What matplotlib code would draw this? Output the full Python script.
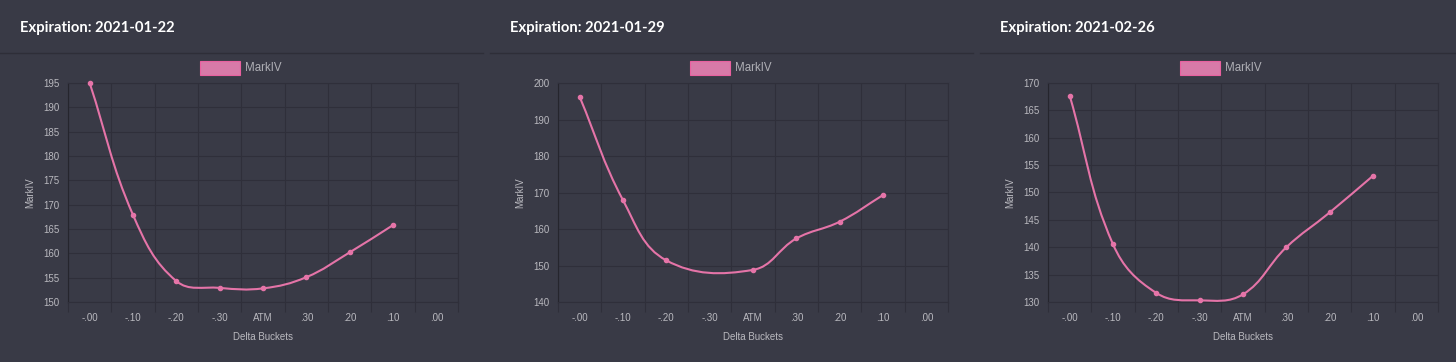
import numpy as np
import matplotlib
matplotlib.use("Agg")
import matplotlib.pyplot as plt
from matplotlib.path import Path
from matplotlib.patches import PathPatch, Rectangle
from matplotlib.lines import Line2D

nan = np.nan
categories = ['-.00', '-.10', '-.20', '-.30', 'ATM', '.30', '.20', '.10', '.00']
titles = ['Expiration: 2021-01-22', 'Expiration: 2021-01-29', 'Expiration: 2021-02-26']
iv_0122 = [195.0, 167.9, 154.3, 152.9, 152.8, 155.1, 160.2, 165.8, nan]
iv_0129 = [196.2, 167.9, 151.4, nan, 148.8, 157.4, 162.0, 169.3, nan]
iv_0226 = [167.7, 140.55, 131.65, 130.3, 131.4, 140.0, 146.35, 153.05, nan]
series = [iv_0122, iv_0129, iv_0226]
yranges = [(150, 195, 5), (140, 200, 10), (130, 170, 5)]

BG = '#393a46'
GRID = '#2f2f3a'
AXIS = '#25252d'
TXT = '#b9b9bf'
PINK = '#e574a8'

W, H = 1456, 362
fig = plt.figure(figsize=(W / 100, H / 100), dpi=100, facecolor=BG)


def spline_path(xs, ys, sx, sy, t=0.4):
    # Chart.js style bezier, computed in pixel space
    px = np.array(xs) * sx
    py = np.array(ys) * sy
    n = len(px)
    verts = [(px[0], py[0])]
    codes = [Path.MOVETO]
    cps = []
    for i in range(n):
        p0 = (px[max(i - 1, 0)], py[max(i - 1, 0)])
        p1 = (px[i], py[i])
        p2 = (px[min(i + 1, n - 1)], py[min(i + 1, n - 1)])
        d01 = np.hypot(p1[0] - p0[0], p1[1] - p0[1])
        d12 = np.hypot(p2[0] - p1[0], p2[1] - p1[1])
        tot = d01 + d12
        s01 = d01 / tot if tot else 0
        s12 = d12 / tot if tot else 0
        fa, fb = t * s01, t * s12
        prev = (p1[0] - fa * (p2[0] - p0[0]), p1[1] - fa * (p2[1] - p0[1]))
        nxt = (p1[0] + fb * (p2[0] - p0[0]), p1[1] + fb * (p2[1] - p0[1]))
        cps.append((prev, nxt))
    for i in range(1, n):
        verts += [cps[i - 1][1], cps[i][0], (px[i], py[i])]
        codes += [Path.CURVE4] * 3
    verts = [(vx / sx, vy / sy) for vx, vy in verts]
    return Path(verts, codes)


for k in range(3):
    off = 490 * k
    left = (68 + off) / W
    width = 390 / W
    bottom = 1 - 302 / H
    height = 219 / H
    ax = fig.add_axes([left, bottom, width, height])
    ax.set_facecolor(BG)
    ymin, ymax, step = yranges[k]
    ax.set_xlim(-0.5, len(categories) - 0.5)
    ax.set_ylim(ymin, ymax)
    ax.set_xticks(range(len(categories)))
    ax.set_xticklabels(categories)
    ax.set_xticks(np.arange(-0.5, len(categories), 1), minor=True)
    ax.set_yticks(np.arange(ymin, ymax + 0.1, step))
    ax.tick_params(axis='x', which='major', length=0, pad=8, labelsize=7, labelcolor=TXT)
    ax.tick_params(axis='x', which='minor', length=7.2, width=0.8, color=GRID)
    ax.tick_params(axis='y', which='major', length=0, pad=6, labelsize=7, labelcolor=TXT)
    for lab in ax.get_xticklabels() + ax.get_yticklabels():
        lab.set_fontfamily('Liberation Sans')
    ax.grid(True, axis='x', which='minor', color=GRID, linewidth=0.8)
    ax.grid(True, axis='y', which='major', color=GRID, linewidth=0.8)
    ax.set_axisbelow(True)
    for s in ['top', 'right', 'bottom']:
        ax.spines[s].set_color(GRID)
        ax.spines[s].set_linewidth(0.8)
    ax.spines['left'].set_color(AXIS)
    ax.spines['left'].set_linewidth(0.8)

    ax.set_ylabel('MarkIV', fontsize=7, color=TXT, family='Liberation Sans')
    ax.yaxis.set_label_coords((35 - 68) / 390, 0.5)
    ax.set_xlabel('Delta Buckets', fontsize=7, color=TXT, family='Liberation Sans')
    ax.xaxis.set_label_coords(0.5, (302 - 332) / 219)

    vals = np.array(series[k], dtype=float)
    idx = np.arange(len(categories))
    m = ~np.isnan(vals)
    sx = 390 / len(categories)
    sy = 219 / (ymax - ymin)
    path = spline_path(idx[m], vals[m], sx, sy)
    ax.add_patch(PathPatch(path, facecolor='none', edgecolor=PINK, linewidth=1.5,
                           clip_on=False, zorder=3))
    ax.plot(idx[m], vals[m], 'o', color=PINK, markersize=3, zorder=4, clip_on=False)

    # title
    fig.text((20 + off) / W, 1 - 28 / H, titles[k], fontsize=10.6, fontweight='bold',
             color='white', family='Lato', va='center', ha='left')
    # separator
    x0 = off / W
    x1 = min(off + 483, W) / W
    fig.add_artist(Line2D([x0, x1], [1 - 53 / H, 1 - 53 / H], color='#2e2e38',
                          linewidth=1.0, transform=fig.transFigure))
    # legend
    fig.add_artist(Rectangle(((200 + off) / W, 1 - 75 / H), 40 / W, 14 / H,
                             facecolor='#d87aa8', edgecolor='#e9609f', linewidth=0.8,
                             transform=fig.transFigure))
    fig.text((245 + off) / W, 1 - 68 / H, 'MarkIV', fontsize=8.3, color='#b0b0b6',
             family='Liberation Sans', va='center', ha='left')

fig.savefig('out.png', dpi=100, facecolor=BG)
